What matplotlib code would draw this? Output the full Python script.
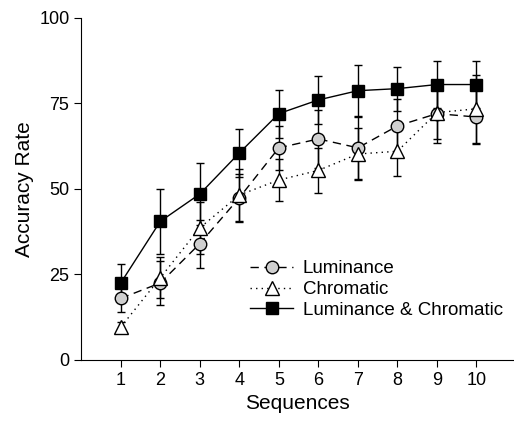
import numpy as np
import matplotlib.pyplot as plt

plt.rcParams['font.family'] = ['Liberation Sans', 'DejaVu Sans']

sequences = np.arange(1, 11)

lum = [18.0, 22.5, 34.0, 47.4, 62.0, 64.6, 62.0, 68.4, 72.0, 71.0]
lum_err = [4.0, 6.5, 7.0, 7.0, 6.5, 8.5, 9.0, 8.0, 7.5, 8.0]

chrom = [9.6, 24.0, 38.6, 48.2, 52.6, 55.4, 60.2, 61.0, 72.3, 73.4]
chrom_err = [1.5, 6.0, 7.5, 7.5, 6.0, 6.5, 7.5, 7.2, 9.0, 10.0]

both = [22.5, 40.5, 48.5, 60.5, 72.0, 76.0, 78.7, 79.3, 80.5, 80.5]
both_err = [5.5, 9.5, 9.0, 7.0, 7.0, 7.0, 7.5, 6.4, 7.0, 7.0]

fig = plt.figure(figsize=(5.14, 4.24), dpi=100)
ax = fig.add_axes([0.158, 0.151, 0.842, 0.807])

ek = dict(ecolor='black', elinewidth=1.0, capsize=3, capthick=1.0)
ax.errorbar(sequences, lum, yerr=lum_err, fmt='o', linestyle=(0, (6, 4)),
            color='black', lw=1.0, markersize=9, markerfacecolor='#cfcfcf',
            markeredgecolor='black', markeredgewidth=1.0, label='Luminance', **ek)
ax.errorbar(sequences, chrom, yerr=chrom_err, fmt='^', linestyle=(0, (1, 3)),
            color='black', lw=1.0, markersize=10, markerfacecolor='white',
            markeredgecolor='black', markeredgewidth=1.0, label='Chromatic', **ek)
ax.errorbar(sequences, both, yerr=both_err, fmt='s', linestyle='-',
            color='black', lw=1.0, markersize=8, markerfacecolor='black',
            markeredgecolor='black', label='Luminance & Chromatic', **ek)

ax.set_xlim(0, 10.95)
ax.set_ylim(0, 100)
ax.set_xticks(sequences)
ax.set_yticks([0, 25, 50, 75, 100])
ax.spines['top'].set_visible(False)
ax.spines['right'].set_visible(False)
ax.tick_params(direction='out', length=5, labelsize=13)
ax.set_xlabel('Sequences', fontsize=15)
ax.set_ylabel('Accuracy Rate', fontsize=15)

handles, labels = ax.get_legend_handles_labels()
handles = [h[0] for h in handles]
ax.legend(handles, labels, loc='upper left', bbox_to_anchor=(0.36, 0.33),
          frameon=False, fontsize=13.5, handlelength=2.3, handletextpad=0.5,
          labelspacing=0.2, borderpad=0.2)

fig.savefig('out.png', dpi=100)
